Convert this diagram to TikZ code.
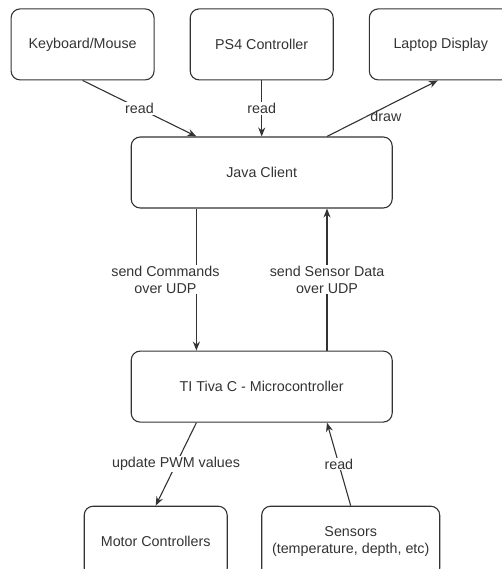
\documentclass[tikz,border=0pt]{standalone}
\usepackage{fontspec}
\setmainfont{Liberation Sans}
\usetikzlibrary{arrows.meta,positioning}
\definecolor{ink}{HTML}{333333}
\tikzset{
  box/.style={draw=ink,rounded corners=9pt,line width=1.1pt,minimum width=143pt,
    minimum height=71pt,align=center,text=ink,font=\fontsize{14.3}{17}\selectfont,inner sep=0pt},
  wide/.style={box,minimum width=261pt},
  link/.style={-{Stealth[length=9pt,width=7pt]},draw=ink,line width=1.1pt},
  tag/.style={fill=white,text=ink,font=\fontsize{14.3}{17}\selectfont,align=center,inner sep=1pt}
}

\begin{document}
\begin{tikzpicture}[x=1pt,y=1pt]
  \useasboundingbox (0,0) rectangle (501,-569);
  \node[wide] (java) at (261.7,-172.5) {Java Client};
  \node[box,above=56pt of java] (ps4) {PS4 Controller};
  \node[box,left=35pt of ps4] (keys) {Keyboard/Mouse};
  \node[box,right=35pt of ps4] (laptop) {Laptop Display};
  \node[wide,below=142pt of java] (tiva) {TI Tiva C - Microcontroller};
  \node[box,below=83pt of tiva,xshift=-106pt] (motors) {Motor Controllers};
  \node[box,minimum width=178pt,below=83pt of tiva,xshift=89pt] (sensors) {Sensors\\(temperature, depth, etc)};
  \draw[link] (keys.south) -- node[tag] {read} ([xshift=-65.3pt]java.north);
  \draw[link] (ps4) -- node[tag] {read} (java);
  \draw[link] ([xshift=65.3pt]java.north) -- node[tag,fill=none,pos=0.45,xshift=9pt,yshift=-5pt] {draw} ([xshift=-3pt]laptop.south);
  \draw[link] ([xshift=-65.3pt]java.south) -- node[tag,xshift=-31pt] {send Commands\\over UDP} ([xshift=-65.3pt]tiva.north);
  \draw[link] ([xshift=65.3pt]tiva.north) -- node[tag] {send Sensor Data\\over UDP} ([xshift=65.3pt]java.south);
  \draw[link] ([xshift=-65.3pt]tiva.south) -- node[tag] {update PWM values} (motors.north);
  \draw[link] (sensors.north) -- node[tag] {read} ([xshift=65.3pt]tiva.south);
\end{tikzpicture}
\end{document}
